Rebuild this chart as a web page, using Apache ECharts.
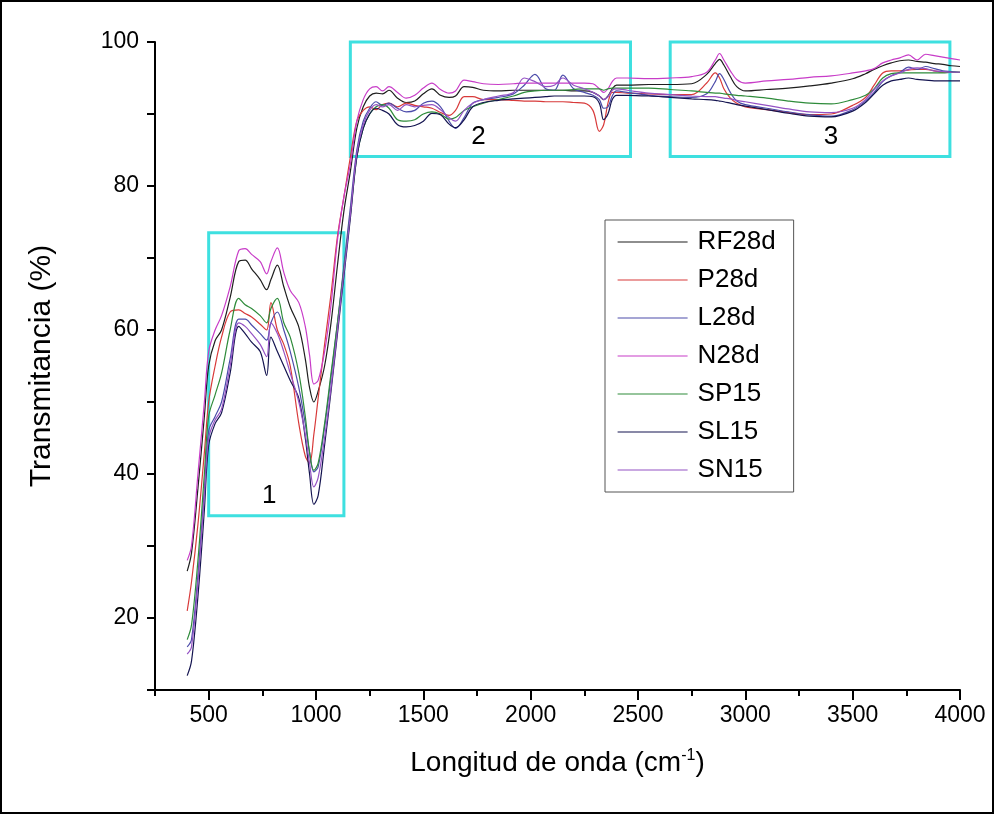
<!DOCTYPE html>
<html>
<head>
<meta charset="utf-8">
<script src="https://cdn.jsdelivr.net/npm/echarts@6/dist/echarts.min.js"></script>
<style>html,body{margin:0;padding:0;background:#fff}#chart{width:995px;height:815px}</style>
</head>
<body>
<div id="chart"></div>
<script>
const wavenumber = [400,420,450,480,500,530,560,600,640,670,700,740,770,790,820,850,880,920,950,970,990,1010,
1040,1070,1100,1130,1160,1190,1220,1250,
1280,1310,1340,1380,1420,1460,1500,1540,1580,1620,1650,1690,1730,1780,1850,1920,1970,2020,2070,2110,2150,2200,2250,2290,2320,2340,2360,2380,2400,2450,
2550,2650,2750,2820,2860,2880,2900,2930,2960,3000,3100,3200,3300,3400,3500,3560,3600,3640,3680,3720,3760,3800,3840,3880,3920,3960,4000];

const RF28d = [26.5,29,38,48,55,58.5,60,64.5,69.5,69.7,68.5,67,65.6,67,69,66,63.2,60.4,56,52,50,51.5,
55,61,69,76.5,82,88,91,92.5,
92.9,92.8,93.3,92.2,91.6,91.8,92.8,93.5,92.6,92.3,92.5,93.8,93.7,93.3,93.2,93.3,93.3,93.3,93.3,93.3,93.3,93.2,93.2,93,92.5,92,92.5,93.5,94,94,
94.1,94.1,94.2,95.5,97,97.6,96.8,95.2,93.8,93.2,93.4,93.6,93.9,94.3,94.9,95.6,96.2,96.7,97.1,97.4,97.5,97.3,97.2,97,96.9,96.7,96.6];

const P28d = [21,25,33,43,50,55,59,62.5,62.8,62.3,61.8,60.8,60,63.8,60,58,55,47,42.5,41.5,45.5,50.5,
58,65,73,78.5,84,89,90.5,91,
90.6,91.3,91.5,91,91.5,91.2,91,90.8,90.2,89.8,90.5,92.4,92.4,92,92,91.9,91.8,91.8,91.7,91.7,91.7,91.6,91.5,90.5,87.6,88.5,91.5,93,93,92.9,
92.8,92.7,92.7,94.3,95.7,95,93.5,92.2,91.5,91,90.6,90.2,89.9,90,91.2,92.3,94,95.7,96,96,96.1,96.2,96.2,96,95.8,95.8,95.8];

const L28d = [16,17,26,38,46,48,50,56,61.5,61.5,60.7,59.5,58.6,61,62.5,60,57,52,47,43,40.3,41,
46.5,53.5,61,69,77,85,89,90.8,
91.7,91.2,91.5,90.8,90.3,90.5,91.5,91.8,91,89,88,89.5,91.5,92,92.3,92.8,94,95.5,93.5,93.3,95.4,93.5,93,92.6,92,90.8,91,92.5,93.2,93,
92.6,92.4,92.3,92.8,94.5,95.6,94.8,93,91.8,91.3,90.8,90.3,89.9,89.7,90.6,91.8,93,94.5,95.3,95.8,96.5,96.2,96.6,96.3,96,95.9,95.8];

const N28d = [28,30,40,50,57,60,62,66,71,71.3,70.5,69.5,67.8,69.5,71.4,68,65.5,63.8,60.5,56.5,52.5,53,
57,63.5,72.5,78.5,83,89,92,93.5,
93.8,93.2,93.8,93,92.2,92.6,93.6,94.3,93.4,92.9,93.2,94.7,94.5,94.2,94.1,94.2,94.3,94.3,94.3,94.3,94.3,94.3,94.3,94.2,93.5,93,93.5,94.5,95,95,
94.9,95,95.2,95.8,97.5,98.4,97.5,96,94.8,94.3,94.6,94.8,95.1,95.3,95.7,96,96.3,97.1,97.5,97.8,98.2,97.5,98.3,98.1,97.9,97.7,97.5];

const SP15 = [17,19,28,40,48,51,54,60,64.4,63.5,63,62,61,63,64.4,61,59,54,48,43,40.5,41.5,
47,54,61,68.5,76,84,88,90,
91,91.3,90.8,89.2,89,89.2,90,90.3,90,89.3,89.5,90.5,91,91.5,92,92.5,93,93.2,93.3,93.3,93.3,93.4,93.5,93.5,93.5,93.3,93.5,93.6,93.6,93.6,
93.6,93.4,93.2,93,92.9,92.9,92.8,92.7,92.6,92.5,92.2,91.8,91.5,91.4,92,92.6,93.5,95,95.6,95.7,95.7,95.7,95.7,95.7,95.7,95.8,95.8];

const SL15 = [12,14,23,35,44,47,48.5,54,60.5,59.5,58.3,57,53.7,59,57,55,53,50.5,45,40,35.8,37,
44,51.5,59.5,67.5,75.5,84,88,90,
90.8,90.5,90,88.5,88.2,88.4,89,90.1,89.9,88.6,88.1,89.2,91,91.6,91.9,92.1,92.2,92.3,92.4,92.5,92.5,92.5,92.5,92.4,91.5,89.2,90,92,92.6,92.6,
92.5,92.3,92.1,92,91.9,91.8,91.7,91.5,91.3,91.1,90.6,90.1,89.7,89.6,90.4,91.6,92.8,94,94.6,94.8,95,94.8,94.7,94.6,94.6,94.6,94.6];

const SN15 = [15,16,25,37,45,47.5,49,55,61,60.5,59.5,58,56.3,61,59.5,57,54,50,45.5,41.5,38.2,39.5,
45,52,60,68,76,84.5,88.5,90.5,
91.3,91,91.3,90.5,91.3,91,91.2,91.3,90.6,89.5,89,90.5,91.5,92,92.5,93,95,94.5,93.8,94,95,94,93.5,93,92.5,92,92.4,93.3,93.5,93.3,
92.9,92.7,92.5,92.4,92.4,92.3,92.2,92.1,91.9,91.7,91.2,90.7,90.3,90.2,90.8,92,93.4,94.6,95.3,95.7,96.2,96.4,96.3,96,95.9,95.8,95.8];

const seriesNames = ['RF28d','P28d','L28d','N28d','SP15','SL15','SN15'];
const seriesValues = [RF28d, P28d, L28d, N28d, SP15, SL15, SN15];
const seriesColors = ['#1e1e1e','#d83a3a','#4c4caa','#c83cc8','#2e8b3a','#141450','#9452c4'];

const xMajorTicks = [500,1000,1500,2000,2500,3000,3500,4000];
const xMinorTicks = [250,750,1250,1750,2250,2750,3250,3750];
const yLabelTicks = [20,40,60,80,100];
const yAllTicks = [10,20,30,40,50,60,70,80,90,100];

const boxLabels = ['1','2','3'];
const boxXFrom = [500,1160,2650];
const boxXTo = [1130,2465,3953];
const boxYFrom = [34.2,84.1,84.1];
const boxYTo = [73.5,100.4,100.4];

const chart = echarts.init(document.getElementById('chart'));
const FONT = 'Liberation Sans, Arial, sans-serif';

const series = seriesNames.map((n,i)=>({
  name:n, type:'line', symbol:'none', smooth:0.35,
  data: wavenumber.map((x,j)=>[x, seriesValues[i][j]]),
  lineStyle:{width:1.2, color:seriesColors[i]}, itemStyle:{color:seriesColors[i]},
  z: 3
}));
const labelOffsets = [[-7,0],[-12,0],[21,0]];
series.push({
  name:'boxes', type:'line', data:[], silent:true,
  markArea:{
    silent:true,
    itemStyle:{color:'rgba(0,0,0,0)', borderColor:'#3ee0e0', borderWidth:3},
    label:{show:true, position:'insideBottom', distance:8, color:'#000', fontSize:26, fontFamily:FONT},
    data: boxLabels.map((b,i)=>[
      {name:b, coord:[boxXFrom[i], boxYTo[i]], label:{offset:labelOffsets[i]}},
      {coord:[boxXTo[i], boxYFrom[i]]}
    ])
  }
});

chart.setOption({
  animation:false,
  backgroundColor:'#fff',
  grid:{left:155, right:35, top:42, bottom:125},
  legend:{
    data:seriesNames, orient:'vertical', left:605, top:220,
    itemWidth:70, itemHeight:14, itemGap:10,
    padding:[8,18,8,12],
    borderColor:'#555', borderWidth:1,
    itemStyle:{opacity:0},
    lineStyle:{width:1.2},
    textStyle:{fontSize:26, fontFamily:FONT, color:'#000', lineHeight:28, padding:[0,0,0,5]}
  },
  xAxis:[{
    type:'value', min:250, max:4000,
    name:'Longitud de onda (cm{sup|-1})', nameLocation:'middle', nameGap:58,
    nameTextStyle:{fontSize:28, fontFamily:FONT, color:'#000',
      rich:{sup:{fontSize:16, fontFamily:FONT, color:'#000', verticalAlign:'top', padding:[0,0,14,0]}}},
    axisLine:{lineStyle:{color:'#000', width:2}},
    axisTick:{customValues:xMajorTicks, length:10, lineStyle:{color:'#000', width:2}},
    axisLabel:{customValues:xMajorTicks, formatter:(v)=>String(v), fontSize:23, fontFamily:FONT, color:'#000', margin:14},
    splitLine:{show:false}
  },{
    type:'value', min:250, max:4000, position:'bottom',
    axisLine:{show:false},
    axisTick:{customValues:xMinorTicks, length:6, lineStyle:{color:'#000', width:2}},
    axisLabel:{show:false}, splitLine:{show:false}
  }],
  yAxis:{
    type:'value', min:10, max:100,
    name:'Transmitancia (%)', nameLocation:'middle', nameGap:98,
    nameTextStyle:{fontSize:30, fontFamily:FONT, color:'#000'},
    axisLine:{lineStyle:{color:'#000', width:2}},
    axisTick:{customValues:yAllTicks, length:8, lineStyle:{color:'#000', width:2}},
    axisLabel:{customValues:yLabelTicks, formatter:(v)=>String(v), fontSize:23, fontFamily:FONT, color:'#000', margin:16},
    splitLine:{show:false}
  },
  graphic:[{type:'rect', shape:{x:1,y:1,width:992,height:812}, style:{fill:null, stroke:'#000', lineWidth:2}, silent:true}],
  series: series
});
</script>
</body>
</html>
